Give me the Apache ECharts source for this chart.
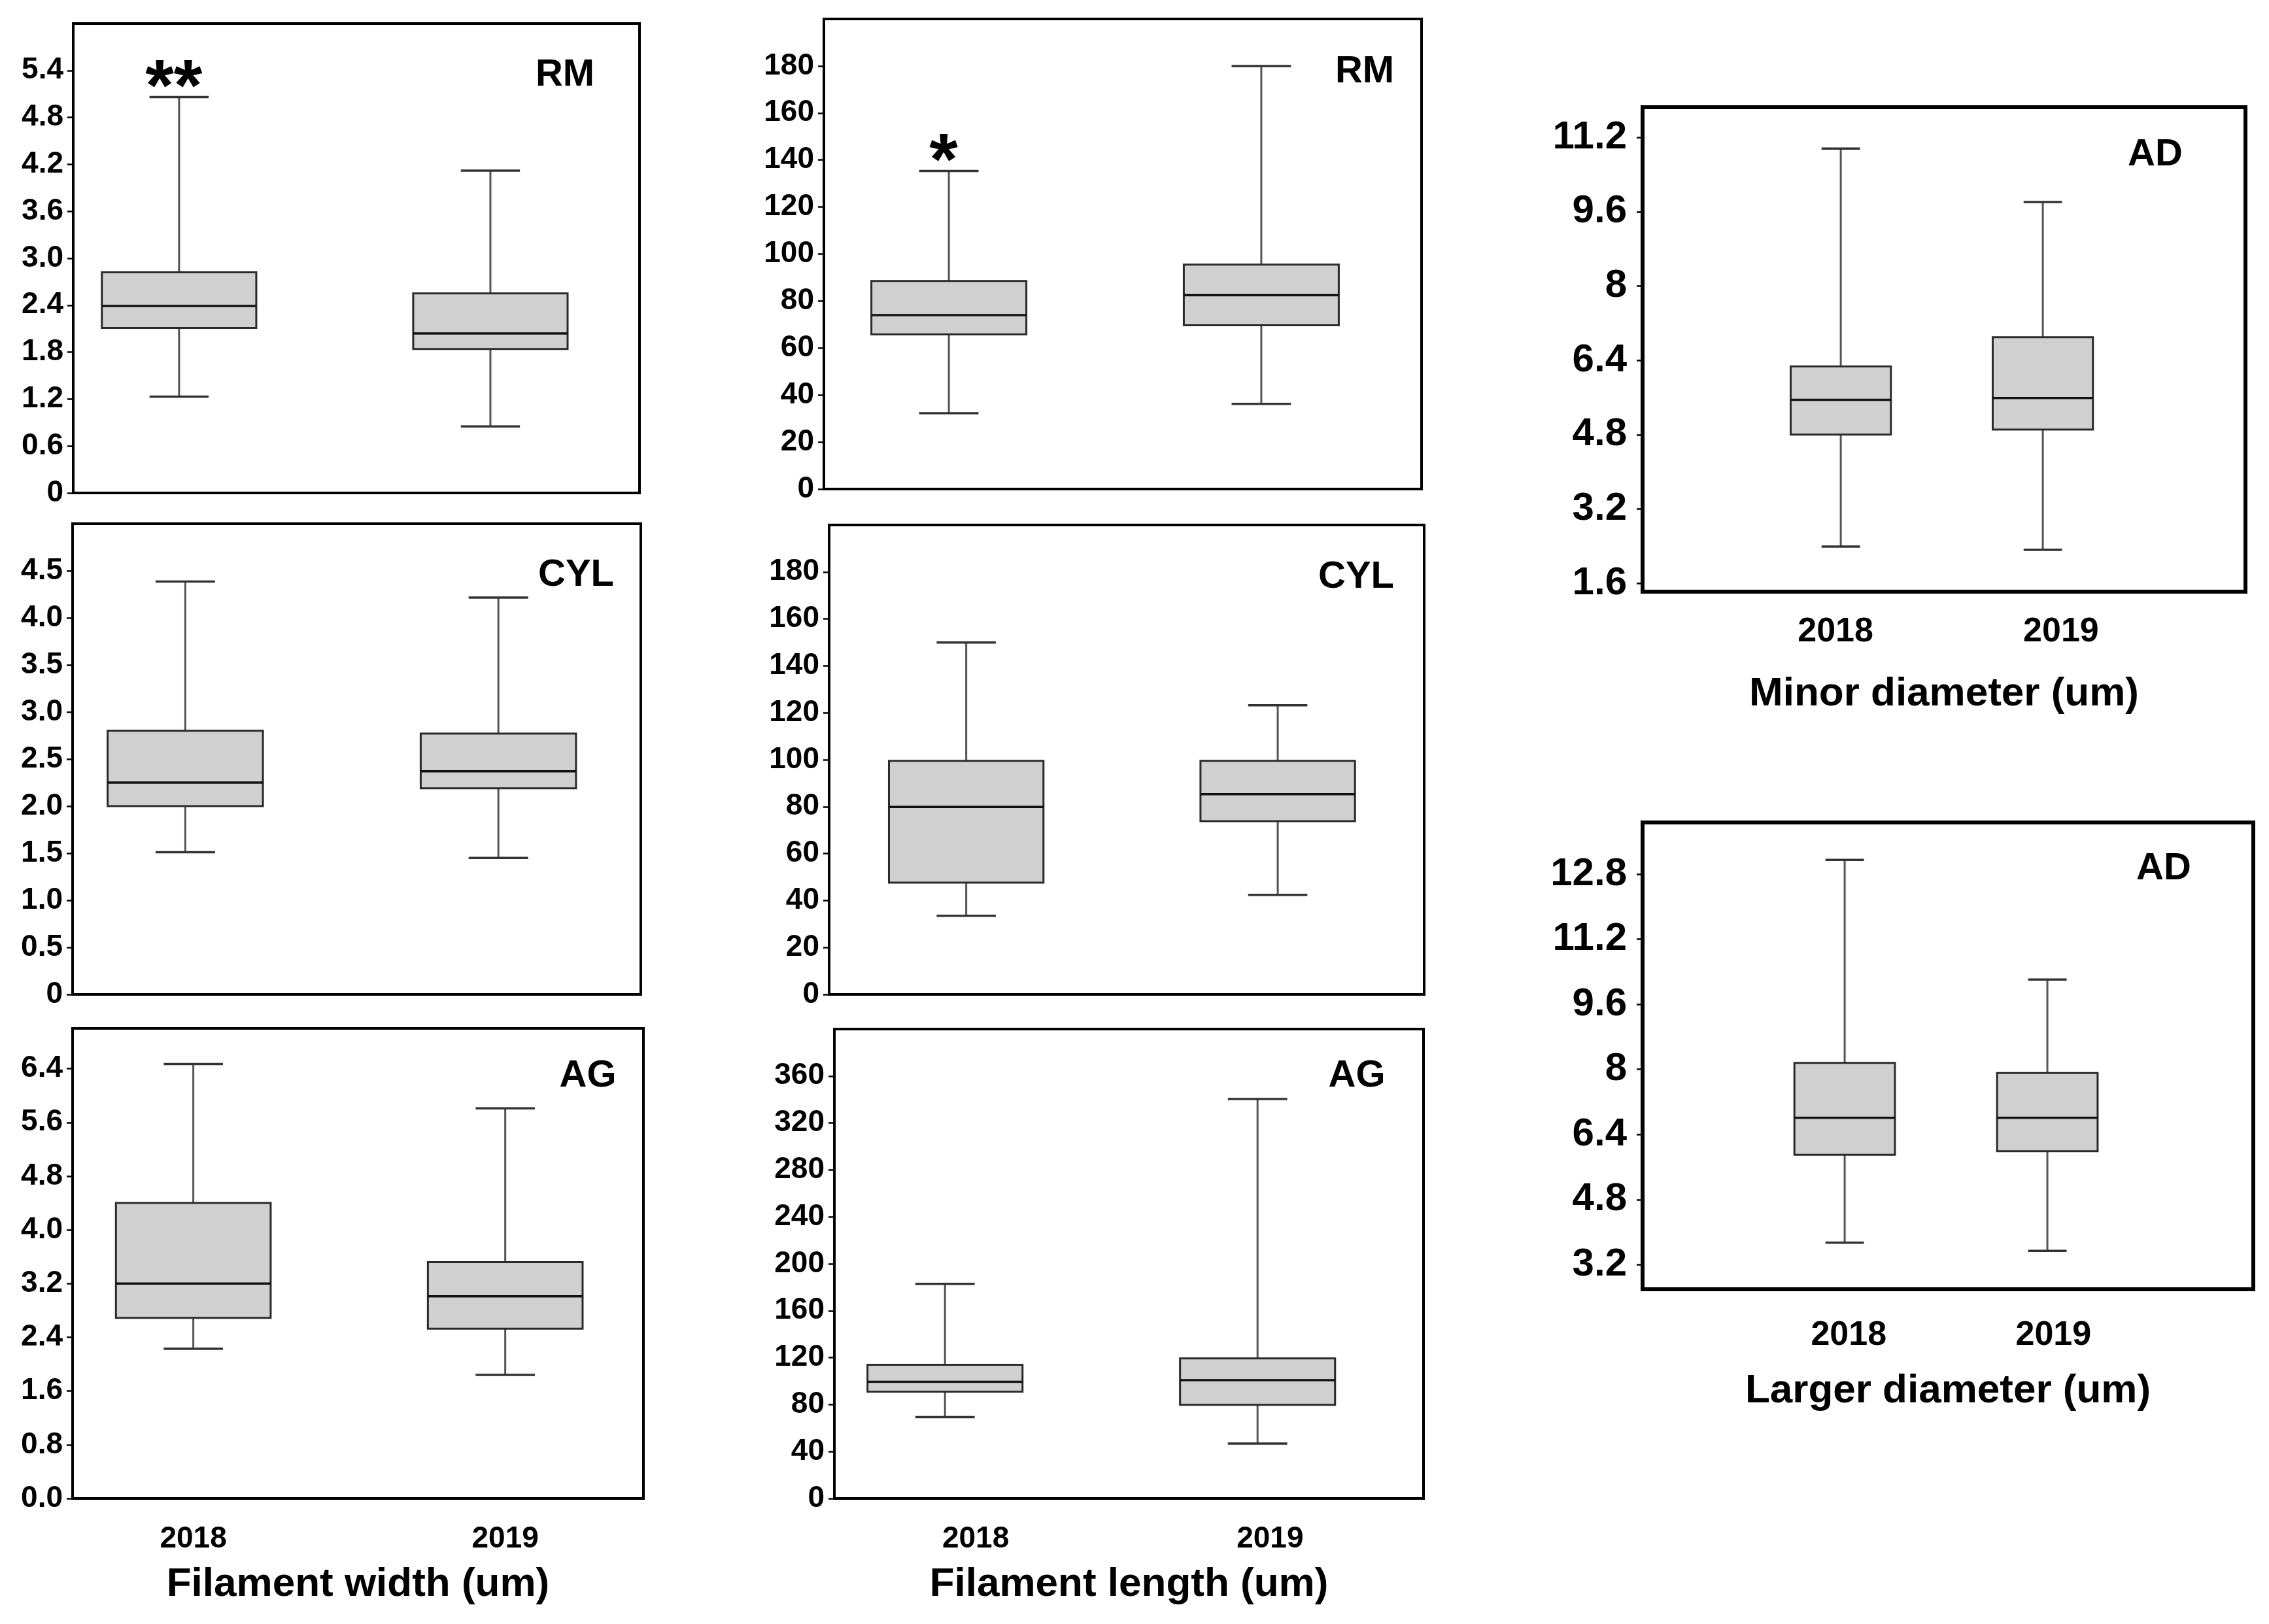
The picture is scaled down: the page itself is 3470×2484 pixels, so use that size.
<!DOCTYPE html>
<html>
<head>
<meta charset="utf-8">
<script src="https://cdn.jsdelivr.net/npm/echarts@6/dist/echarts.min.js"></script>
<style>
html,body{margin:0;padding:0;background:#fff;}
#chart{width:3470px;height:2484px;}
</style>
</head>
<body>
<div id="chart"></div>
<script>
// ---------- data (min, Q1, median, Q3, max) per year ----------
const years = ['2018', '2019'];
const fwRM     = [[1.23, 2.11, 2.39, 2.82, 5.06], [0.85, 1.84, 2.04, 2.55, 4.12]];
const flRM     = [[32.3, 65.8, 74.0, 88.5, 135.3], [36.2, 69.7, 82.5, 95.5, 180.0]];
const minorAD  = [[2.39, 4.80, 5.55, 6.27, 10.96], [2.32, 4.91, 5.59, 6.90, 9.81]];
const fwCYL    = [[1.51, 2.00, 2.25, 2.80, 4.385], [1.45, 2.19, 2.37, 2.77, 4.215]];
const flCYL    = [[33.5, 47.6, 79.9, 99.5, 149.9], [42.4, 73.8, 85.3, 99.5, 123.2]];
const fwAG     = [[2.23, 2.69, 3.20, 4.40, 6.47], [1.84, 2.53, 3.01, 3.52, 5.81]];
const flAG     = [[69.4, 91.0, 99.4, 113.9, 182.8], [46.8, 79.8, 100.8, 119.3, 340.4]];
const largerAD = [[3.74, 5.90, 6.81, 8.16, 13.15], [3.54, 5.99, 6.81, 7.91, 10.21]];

// significance marks above each year's box
const fwRMSig = ['**', ''];
const flRMSig = ['*', ''];
const noSig   = ['', ''];

// tick labels
const fwRMTicks     = ['0', '0.6', '1.2', '1.8', '2.4', '3.0', '3.6', '4.2', '4.8', '5.4'];
const flTicks       = ['0', '20', '40', '60', '80', '100', '120', '140', '160', '180'];
const minorADTicks  = ['1.6', '3.2', '4.8', '6.4', '8', '9.6', '11.2'];
const fwCYLTicks    = ['0', '0.5', '1.0', '1.5', '2.0', '2.5', '3.0', '3.5', '4.0', '4.5'];
const fwAGTicks     = ['0.0', '0.8', '1.6', '2.4', '3.2', '4.0', '4.8', '5.6', '6.4'];
const flAGTicks     = ['0', '40', '80', '120', '160', '200', '240', '280', '320', '360'];
const largerADTicks = ['3.2', '4.8', '6.4', '8', '9.6', '11.2', '12.8'];

const groupTags = ['RM', 'CYL', 'AG', 'AD'];
const measureNames = ['Filament width (um)', 'Filament length (um)', 'Minor diameter (um)', 'Larger diameter (um)'];

// ---------- layout ----------
const FONT = '"Liberation Sans", Arial, Helvetica, sans-serif';
const panels = [
  {data: fwRM, sig: fwRMSig, ticks: fwRMTicks, ymin: 0, ymax: 6.0, grid: [112, 36, 866, 718], x: [-0.34, 1.479], tag: groupTags[0], tagPos: [864, 115], big: false},
  {data: flRM, sig: flRMSig, ticks: flTicks, ymin: 0, ymax: 200, grid: [1260, 29, 914, 719], x: [-0.40, 1.513], tag: groupTags[0], tagPos: [2087, 110], big: false},
  {data: minorAD, sig: noSig, ticks: minorADTicks, ymin: 1.42, ymax: 11.85, grid: [2512, 164, 922, 741], x: [-0.981, 2.003], tag: groupTags[3], tagPos: [3296, 237], big: true, name: measureNames[2], labelAt: [-0.026, 1.09], labelGap: 62, nameGap: 157},
  {data: fwCYL, sig: noSig, ticks: fwCYLTicks, ymin: 0, ymax: 5.0, grid: [111, 801, 869, 720], x: [-0.36, 1.455], tag: groupTags[1], tagPos: [881, 880], big: false},
  {data: flCYL, sig: noSig, ticks: flTicks, ymin: 0, ymax: 200, grid: [1268, 803, 910, 718], x: [-0.44, 1.47], tag: groupTags[1], tagPos: [2074, 883], big: false},
  {data: fwAG, sig: noSig, ticks: fwAGTicks, ymin: 0, ymax: 7.0, grid: [111, 1573, 873, 719], x: [-0.387, 1.443], tag: groupTags[2], tagPos: [899, 1646], big: false, name: measureNames[0], labelAt: [0, 1], labelGap: 62, nameGap: 132},
  {data: flAG, sig: noSig, ticks: flAGTicks, ymin: 0, ymax: 400, grid: [1276, 1574, 901, 718], x: [-0.354, 1.531], tag: groupTags[2], tagPos: [2075, 1646], big: false, name: measureNames[1], labelAt: [0.098, 1.04], labelGap: 62, nameGap: 132},
  {data: largerAD, sig: noSig, ticks: largerADTicks, ymin: 2.595, ymax: 14.07, grid: [2512, 1258, 934, 714], x: [-0.997, 2.016], tag: groupTags[3], tagPos: [3309, 1329], big: true, name: measureNames[3], labelAt: [0.02, 1.03], labelGap: 71, nameGap: 156}
];

const BOX_HALF = 0.248;
const CAP_HALF = 0.095;

function makeRender(sig) {
  return function (params, api) {
    const x = api.value(0);
    const vMin = api.value(1), q1 = api.value(2), med = api.value(3), q3 = api.value(4), vMax = api.value(5);
    const cx = api.coord([x, med])[0];
    const bl = api.coord([x - BOX_HALF, med])[0];
    const br = api.coord([x + BOX_HALF, med])[0];
    const cl = api.coord([x - CAP_HALF, med])[0];
    const cr = api.coord([x + CAP_HALF, med])[0];
    const yMin = api.coord([x, vMin])[1];
    const yQ1 = api.coord([x, q1])[1];
    const yMed = api.coord([x, med])[1];
    const yQ3 = api.coord([x, q3])[1];
    const yMax = api.coord([x, vMax])[1];
    const wStyle = {stroke: '#555', lineWidth: 3, fill: null};
    const children = [
      {type: 'line', shape: {x1: cx, y1: yMax, x2: cx, y2: yQ3}, style: wStyle},
      {type: 'line', shape: {x1: cx, y1: yQ1, x2: cx, y2: yMin}, style: wStyle},
      {type: 'line', shape: {x1: cl, y1: yMax, x2: cr, y2: yMax}, style: {stroke: '#333', lineWidth: 3.5}},
      {type: 'line', shape: {x1: cl, y1: yMin, x2: cr, y2: yMin}, style: {stroke: '#333', lineWidth: 3.5}},
      {type: 'rect', shape: {x: bl, y: yQ3, width: br - bl, height: yQ1 - yQ3}, style: {fill: '#d0d0d0', stroke: '#2a2a2a', lineWidth: 3}},
      {type: 'line', shape: {x1: bl, y1: yMed, x2: br, y2: yMed}, style: {stroke: '#111', lineWidth: 3.5}}
    ];
    const mark = sig[params.dataIndex];
    if (mark) {
      children.push({type: 'text', style: {text: mark, x: cx - 8, y: yMax - 10, font: 'bold 112px ' + FONT, fill: '#000', align: 'center', verticalAlign: 'middle', textAlign: 'center', textVerticalAlign: 'middle'}});
    }
    return {type: 'group', children: children};
  };
}

const option = {
  backgroundColor: '#fff',
  animation: false,
  grid: [], xAxis: [], yAxis: [], series: [], graphic: []
};

panels.forEach(function (p, i) {
  const tickVals = p.ticks.map(Number);
  const ticks = p.ticks;
  option.grid.push({left: p.grid[0], top: p.grid[1], width: p.grid[2], height: p.grid[3], show: true, borderColor: '#000', borderWidth: p.big ? 6 : 4, backgroundColor: 'transparent', containLabel: false});
  const xa = {
    type: 'value', gridIndex: i, min: p.x[0], max: p.x[1], position: 'bottom',
    axisLine: {show: false, onZero: false}, axisTick: {show: false}, splitLine: {show: false},
    axisLabel: {show: false}
  };
  if (p.name) {
    xa.axisLabel = {
      show: true, customValues: p.labelAt, margin: p.labelGap, verticalAlign: 'middle',
      formatter: function (v) { return years[Math.round(v)]; },
      fontFamily: FONT, fontWeight: 'bold', fontSize: p.big ? 52 : 46, color: '#000'
    };
    xa.name = p.name;
    xa.nameLocation = 'middle';
    xa.nameGap = p.nameGap;
    xa.nameTextStyle = {fontFamily: FONT, fontWeight: 'bold', fontSize: 62, color: '#000', verticalAlign: 'middle'};
  }
  option.xAxis.push(xa);
  option.yAxis.push({
    type: 'value', gridIndex: i, min: p.ymin, max: p.ymax, position: 'left',
    axisLine: {show: false, onZero: false},
    splitLine: {show: false},
    axisTick: {show: true, customValues: tickVals, length: 9, lineStyle: {color: '#000', width: 2.5}},
    axisLabel: {
      show: true, customValues: tickVals, margin: p.big ? 24 : 15,
      formatter: function (v) {
        for (let k = 0; k < ticks.length; k++) { if (Math.abs(Number(ticks[k]) - v) < 1e-9) return ticks[k]; }
        return '';
      },
      fontFamily: FONT, fontWeight: 'bold', fontSize: p.big ? 60 : 46, color: '#000'
    }
  });
  option.series.push({
    type: 'custom', xAxisIndex: i, yAxisIndex: i,
    renderItem: makeRender(p.sig),
    encode: {x: 0, y: [1, 2, 3, 4, 5]},
    data: p.data.map(function (d, k) { return [k].concat(d); }),
    clip: false, silent: true
  });
  option.graphic.push({
    type: 'text', x: p.tagPos[0], y: p.tagPos[1], silent: true,
    style: {text: p.tag, font: 'bold 58px ' + FONT, fill: '#000', align: 'center', verticalAlign: 'middle', textAlign: 'center', textVerticalAlign: 'middle'}
  });
});

const chart = echarts.init(document.getElementById('chart'), null, {renderer: 'canvas'});
chart.setOption(option);
</script>
</body>
</html>
